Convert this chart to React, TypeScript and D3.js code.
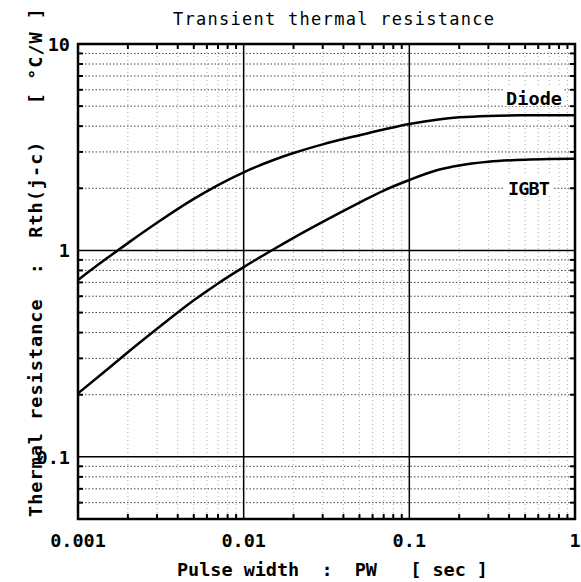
import React from "react";
import * as d3 from "d3";

const pulseWidth = [0.001, 0.0015, 0.002, 0.003, 0.005, 0.007, 0.01, 0.015, 0.02, 0.03, 0.05, 0.07, 0.1, 0.15, 0.2, 0.3, 0.5, 0.7, 1];
const diodeRth = [0.72, 0.918, 1.085, 1.361, 1.776, 2.073, 2.391, 2.734, 2.963, 3.265, 3.617, 3.855, 4.098, 4.313, 4.413, 4.485, 4.513, 4.519, 4.52];
const igbtRth = [0.203, 0.265, 0.321, 0.417, 0.573, 0.692, 0.83, 1.008, 1.151, 1.375, 1.704, 1.95, 2.194, 2.458, 2.581, 2.688, 2.751, 2.769, 2.777];

const xMajor = [0.001, 0.01, 0.1, 1];
const xMajorLabels = ["0.001", "0.01", "0.1", "1"];
const yMajor = [0.1, 1, 10];
const yMajorLabels = ["0.1", "1", "10"];

const title = "Transient thermal resistance";
const xTitle = "Pulse width  :  PW   [ sec ]";
const yTitle = "Thermal resistance  :  Rth(j-c)   [ \u00B0C/W ]";

const W = 581, H = 582;
const L = 78, R = 575, T = 44, B = 519;
const FONT = "'DejaVu Sans Mono', monospace";

export default function App() {
  const x = d3.scaleLog().domain([0.001, 1]).range([L, R]);
  const y = d3.scaleLog().domain([0.05, 10]).range([B, T]);

  const xMinor: number[] = [];
  [0.001, 0.01, 0.1].forEach((d) => { for (let k = 2; k <= 9; k++) xMinor.push(d * k); });
  const yMinor: number[] = [];
  [0.01, 0.1, 1].forEach((d) => { for (let k = 2; k <= 9; k++) { const v = d * k; if (v > 0.05 && v < 10) yMinor.push(v); } });

  const line = d3.line<number>()
    .x((_, i) => x(pulseWidth[i]))
    .y((d) => y(d))
    .curve(d3.curveMonotoneX);

  const tick = 5;

  return (
    <svg width={W} height={H} style={{ position: "absolute", left: 0, top: 0, background: "#fff" }}>
      <rect x={0} y={0} width={W} height={H} fill="#fff" />
      {xMinor.map((v, i) => (
        <line key={"xv" + i} x1={x(v)} x2={x(v)} y1={T} y2={B} stroke="#aaa" strokeWidth={1} strokeDasharray="1,3" />
      ))}
      {yMinor.map((v, i) => (
        <line key={"yh" + i} x1={L} x2={R} y1={y(v)} y2={y(v)} stroke="#444" strokeWidth={1} strokeDasharray="1.5,2" />
      ))}
      {xMajor.slice(1, -1).map((v, i) => (
        <line key={"xM" + i} x1={x(v)} x2={x(v)} y1={T} y2={B} stroke="#000" strokeWidth={1.5} />
      ))}
      {yMajor.slice(0, -1).map((v, i) => (
        <line key={"yM" + i} x1={L} x2={R} y1={y(v)} y2={y(v)} stroke="#000" strokeWidth={1.5} />
      ))}
      {xMinor.map((v, i) => (
        <g key={"xt" + i} stroke="#000" strokeWidth={2}>
          <line x1={x(v)} x2={x(v)} y1={B} y2={B - tick} />
          <line x1={x(v)} x2={x(v)} y1={T} y2={T + tick} />
        </g>
      ))}
      {yMinor.map((v, i) => (
        <g key={"yt" + i} stroke="#000" strokeWidth={2}>
          <line x1={L} x2={L + tick} y1={y(v)} y2={y(v)} />
          <line x1={R} x2={R - tick} y1={y(v)} y2={y(v)} />
        </g>
      ))}
      <path d={line(diodeRth) || ""} fill="none" stroke="#000" strokeWidth={2.5} />
      <path d={line(igbtRth) || ""} fill="none" stroke="#000" strokeWidth={2.5} />
      <rect x={L} y={T} width={R - L} height={B - T} fill="none" stroke="#000" strokeWidth={2.5} />
      <rect x={504} y={87} width={60} height={19} fill="#fff" />
      <text x={506} y={105} fontFamily={FONT} fontWeight="bold" fontSize={18.5} textLength={56} lengthAdjust="spacing">Diode</text>
      <rect x={505} y={176} width={48} height={20} fill="#fff" />
      <text x={508} y={195} fontFamily={FONT} fontWeight="bold" fontSize={18.5} textLength={42} lengthAdjust="spacing">IGBT</text>
      {xMajor.map((v, i) => (
        <text key={"xl" + i} x={x(v)} y={547} textAnchor="middle" fontFamily={FONT} fontWeight="bold" fontSize={18.5}>{xMajorLabels[i]}</text>
      ))}
      {yMajor.map((v, i) => (
        <text key={"yl" + i} x={70} y={y(v) + 7} textAnchor="end" fontFamily={FONT} fontWeight="bold" fontSize={18.5}>{yMajorLabels[i]}</text>
      ))}
      <text x={173} y={25} fontFamily={FONT} fontSize={17} textLength={321} lengthAdjust="spacing">{title}</text>
      <text x={177} y={576} fontFamily={FONT} fontWeight="bold" fontSize={18.5} textLength={311} lengthAdjust="spacing" style={{ whiteSpace: "pre" }}>{xTitle}</text>
      <text transform="translate(42,517) rotate(-90)" x={0} y={0} fontFamily={FONT} fontWeight="bold" fontSize={18.5} textLength={509} lengthAdjust="spacing" style={{ whiteSpace: "pre" }}>{yTitle}</text>
    </svg>
  );
}
